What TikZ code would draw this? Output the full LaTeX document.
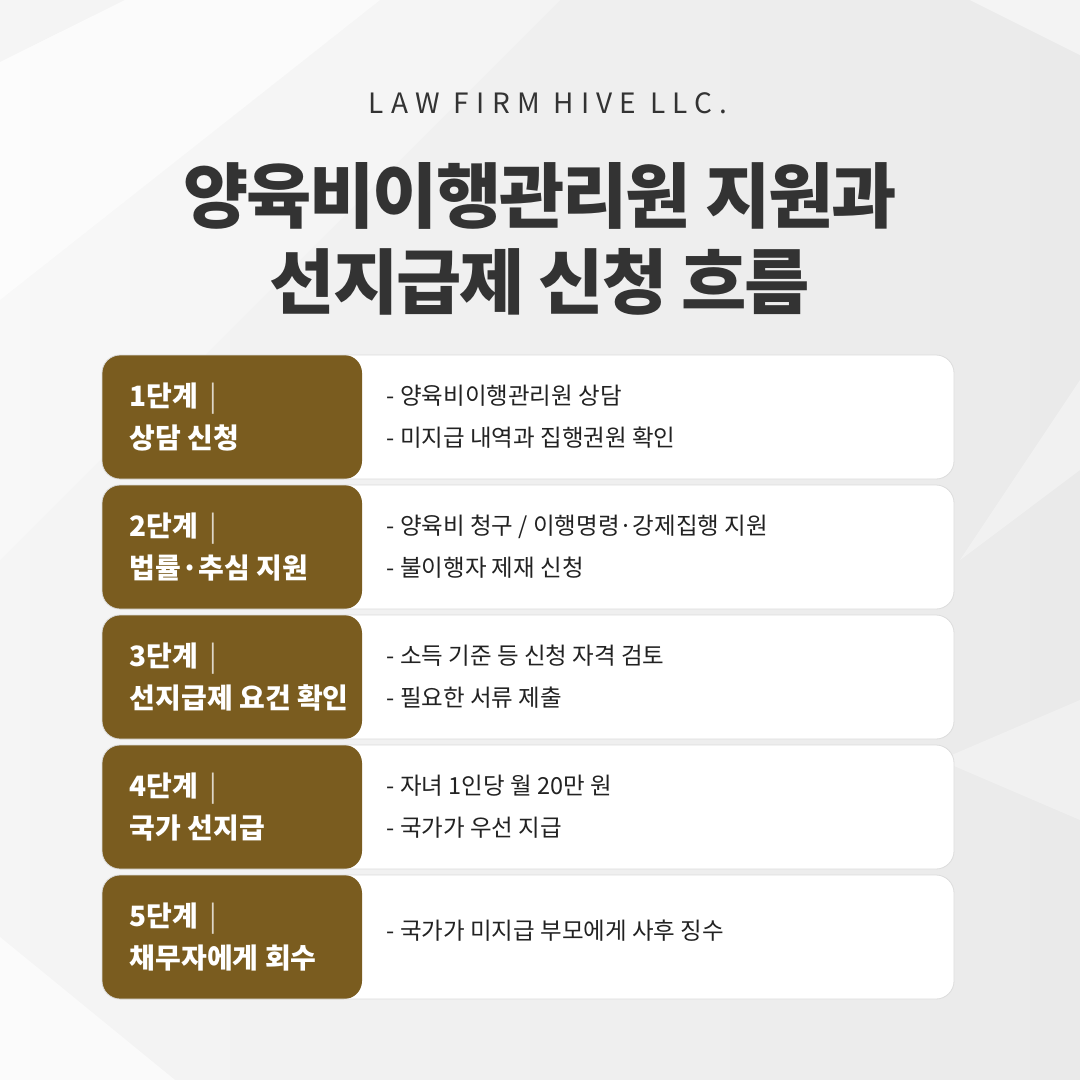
\documentclass[tikz,border=0pt]{standalone}
\usepackage{fontspec}
\usepackage{xcolor}
\setmainfont{Noto Sans CJK KR}
\newfontfamily\firmfont[LetterSpace=26]{Noto Sans CJK KR}
\newfontfamily\titlefont[LetterSpace=-3]{Noto Sans CJK KR}

\definecolor{stepbrown}{HTML}{7A5C1F}
\definecolor{inkgray}{HTML}{333333}
\definecolor{desctext}{HTML}{222222}
\definecolor{cardline}{HTML}{DCDCDC}
\definecolor{bggray}{HTML}{EAEAEA}

\tikzset{
  card/.style={draw=cardline, line width=0.8pt, fill=white, rounded corners=18pt,
    minimum width=852pt, minimum height=124pt, inner sep=0pt},
  steplabel/.style={font=\fontsize{28}{42}\selectfont\bfseries, text=white,
    align=left, anchor=west, inner sep=0pt},
  stepdesc/.style={font=\fontsize{23.5}{42}\selectfont, text=desctext,
    align=left, anchor=west, inner sep=0pt},
}

\begin{document}
\begin{tikzpicture}[x=1pt,y=-1pt]
    \useasboundingbox (0,0) rectangle (1080,1080);

    % background
    \shade[left color=white!96!black, right color=bggray] (0,0) rectangle (1080,1080);
    \fill[white, opacity=0.7]  (125,0) -- (380,0) -- (0,300) -- (0,62) -- cycle;
    \fill[white, opacity=0.3]  (380,0) -- (560,0) -- (0,560) -- (0,300) -- cycle;
    \fill[white, opacity=0.6]  (0,937) -- (175,1080) -- (0,1080) -- cycle;
    \fill[white, opacity=0.45] (970,0) -- (1080,0) -- (1080,55) -- cycle;
    \fill[white, opacity=0.35] (1080,380) -- (1080,470) -- (960,560) -- cycle;
    \fill[white, opacity=0.3]  (1080,700) -- (1080,820) -- (940,760) -- cycle;

    % heading
    \node[font=\firmfont\fontsize{28}{28}\selectfont, text=inkgray] (firm) at (548,103) {LAW FIRM HIVE LLC.};
    \node[font=\titlefont\bfseries\fontsize{71}{86}\selectfont, text=inkgray, align=center]
        (title) at (540,239) {양육비이행관리원 지원과\\선지급제 신청 흐름};

    % steps
    \foreach \i/\lbl/\desc/\dy in {
        1/{상담 신청}/{- 양육비이행관리원 상담\\- 미지급 내역과 집행권원 확인}/0,
        2/{법률·추심 지원}/{- 양육비 청구 / 이행명령·강제집행 지원\\- 불이행자 제재 신청}/0,
        3/{선지급제 요건 확인}/{- 소득 기준 등 신청 자격 검토\\- 필요한 서류 제출}/0,
        4/{국가 선지급}/{- 자녀 1인당 월 20만 원\\- 국가가 우선 지급}/0,
        5/{채무자에게 회수}/{- 국가가 미지급 부모에게 사후 징수}/6}{
        \pgfmathsetmacro\cy{417+(\i-1)*130}
        \node[card, path picture={\fill[stepbrown] (path picture bounding box.north west)
            rectangle ([xshift=260pt]path picture bounding box.south west);}] (card\i) at (528,\cy) {};
        \node[steplabel] (lbl\i) at ([xshift=28pt]card\i.west)
            {\i{}단계\hspace{0.4em}{\mdseries\color{white!75!stepbrown}|}\\\lbl};
        \node[stepdesc] (desc\i) at ([xshift=285pt,yshift=\dy pt]card\i.west) {\desc};
    }
\end{tikzpicture}
\end{document}
